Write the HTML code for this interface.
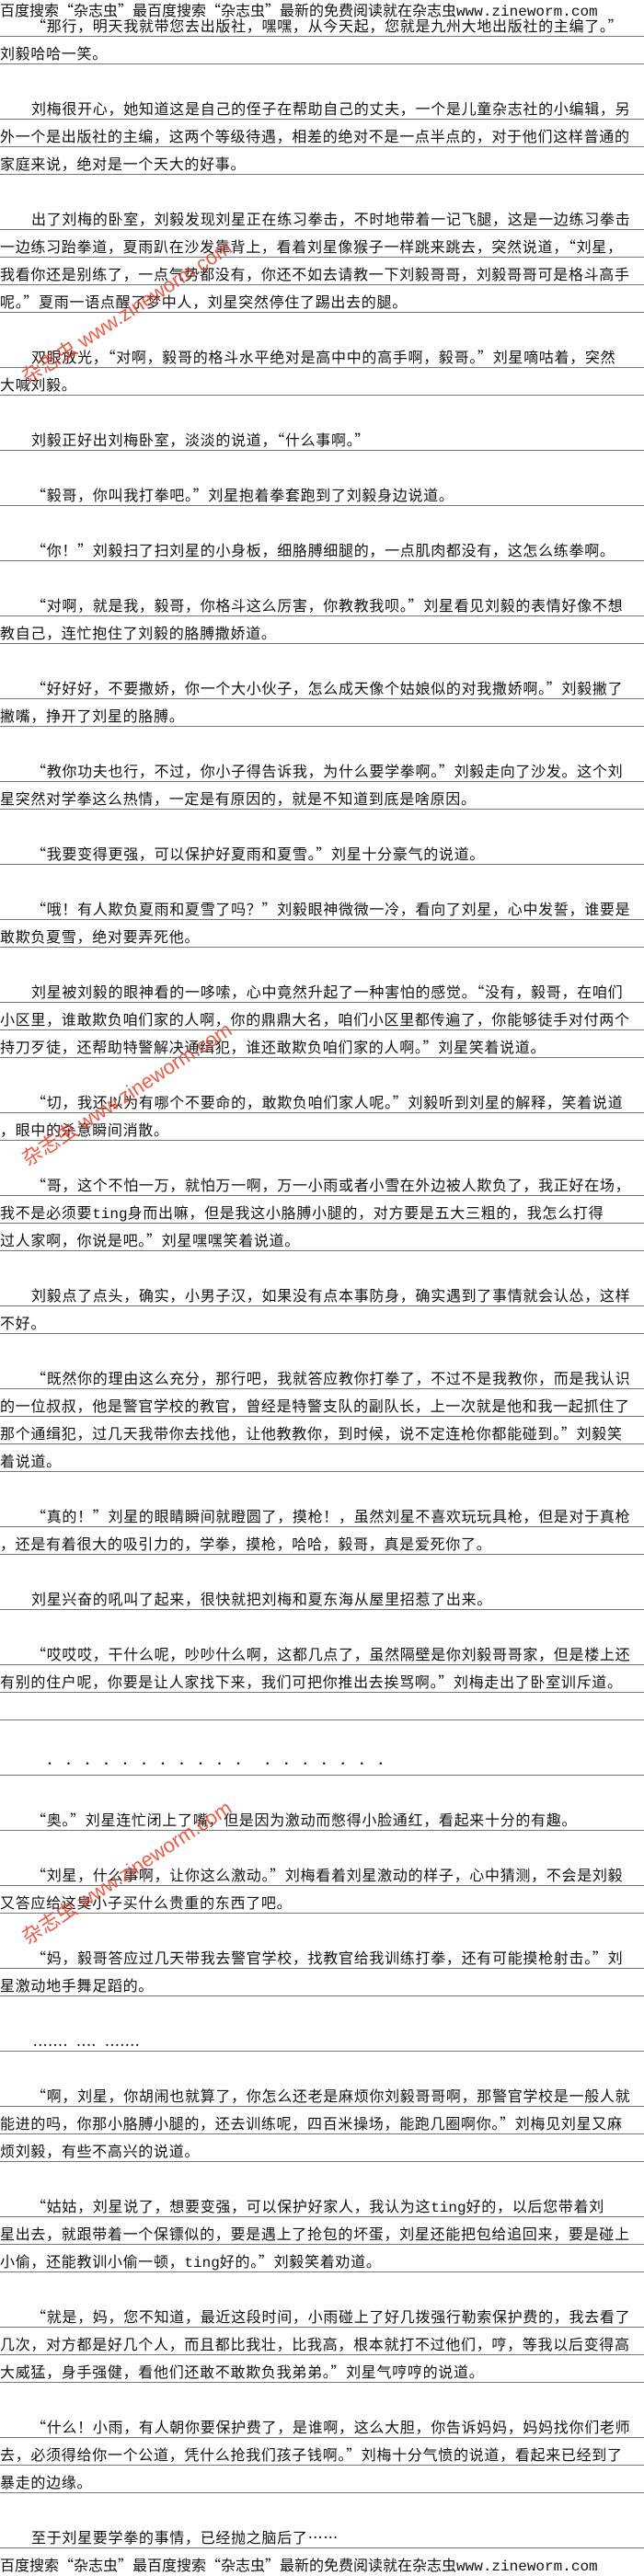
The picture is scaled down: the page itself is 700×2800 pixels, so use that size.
<!DOCTYPE html>
<html><head><meta charset="utf-8">
<style>
html,body{margin:0;padding:0;background:#fff;}
body{width:700px;height:2800px;position:relative;overflow:hidden;font-family:"Noto Sans CJK SC","WenQuanYi Zen Hei",sans-serif;color:#111;}
.r{position:absolute;left:0;width:700px;height:30px;box-sizing:border-box;border-bottom:1px solid #777;font-size:16px;letter-spacing:0.7px;line-height:24px;padding-top:5px;white-space:nowrap;overflow:hidden;}
.i{padding-left:34px;}
.m{font-family:"Liberation Mono",monospace;letter-spacing:0;}
.hd{position:absolute;left:0;width:700px;font-size:16px;line-height:20px;white-space:nowrap;overflow:hidden;letter-spacing:0;}
.wm{position:absolute;color:#e8402a;font-family:"Liberation Sans","Noto Sans CJK SC",sans-serif;font-size:22px;white-space:nowrap;transform-origin:0 100%;transform:rotate(-33deg);opacity:0.85;}
</style></head><body>
<div class="hd" style="top:0">百度搜索“杂志虫”最百度搜索“杂志虫”最新的免费阅读就在杂志虫<span class="m">www.zineworm.com</span></div>

<div class="r i" style="top:10px">“那行，明天我就带您去出版社，嘿嘿，从今天起，您就是九州大地出版社的主编了。”</div>
<div class="r" style="top:40px">刘毅哈哈一笑。</div>
<div class="r i" style="top:100px">刘梅很开心，她知道这是自己的侄子在帮助自己的丈夫，一个是儿童杂志社的小编辑，另</div>
<div class="r" style="top:130px">外一个是出版社的主编，这两个等级待遇，相差的绝对不是一点半点的，对于他们这样普通的</div>
<div class="r" style="top:160px">家庭来说，绝对是一个天大的好事。</div>
<div class="r i" style="top:220px">出了刘梅的卧室，刘毅发现刘星正在练习拳击，不时地带着一记飞腿，这是一边练习拳击</div>
<div class="r" style="top:250px">一边练习跆拳道，夏雨趴在沙发靠背上，看着刘星像猴子一样跳来跳去，突然说道，“刘星，</div>
<div class="r" style="top:280px">我看你还是别练了，一点气势都没有，你还不如去请教一下刘毅哥哥，刘毅哥哥可是格斗高手</div>
<div class="r" style="top:310px">呢。”夏雨一语点醒了梦中人，刘星突然停住了踢出去的腿。</div>
<div class="r i" style="top:370px">双眼放光，“对啊，毅哥的格斗水平绝对是高中中的高手啊，毅哥。”刘星嘀咕着，突然</div>
<div class="r" style="top:400px">大喊刘毅。</div>
<div class="r i" style="top:460px">刘毅正好出刘梅卧室，淡淡的说道，“什么事啊。”</div>
<div class="r i" style="top:520px">“毅哥，你叫我打拳吧。”刘星抱着拳套跑到了刘毅身边说道。</div>
<div class="r i" style="top:580px">“你！”刘毅扫了扫刘星的小身板，细胳膊细腿的，一点肌肉都没有，这怎么练拳啊。</div>
<div class="r i" style="top:640px">“对啊，就是我，毅哥，你格斗这么厉害，你教教我呗。”刘星看见刘毅的表情好像不想</div>
<div class="r" style="top:670px">教自己，连忙抱住了刘毅的胳膊撒娇道。</div>
<div class="r i" style="top:730px">“好好好，不要撒娇，你一个大小伙子，怎么成天像个姑娘似的对我撒娇啊。”刘毅撇了</div>
<div class="r" style="top:760px">撇嘴，挣开了刘星的胳膊。</div>
<div class="r i" style="top:820px">“教你功夫也行，不过，你小子得告诉我，为什么要学拳啊。”刘毅走向了沙发。这个刘</div>
<div class="r" style="top:850px">星突然对学拳这么热情，一定是有原因的，就是不知道到底是啥原因。</div>
<div class="r i" style="top:910px">“我要变得更强，可以保护好夏雨和夏雪。”刘星十分豪气的说道。</div>
<div class="r i" style="top:970px">“哦！有人欺负夏雨和夏雪了吗？”刘毅眼神微微一冷，看向了刘星，心中发誓，谁要是</div>
<div class="r" style="top:1000px">敢欺负夏雪，绝对要弄死他。</div>
<div class="r i" style="top:1060px">刘星被刘毅的眼神看的一哆嗦，心中竟然升起了一种害怕的感觉。“没有，毅哥，在咱们</div>
<div class="r" style="top:1090px">小区里，谁敢欺负咱们家的人啊，你的鼎鼎大名，咱们小区里都传遍了，你能够徒手对付两个</div>
<div class="r" style="top:1120px">持刀歹徒，还帮助特警解决通缉犯，谁还敢欺负咱们家的人啊。”刘星笑着说道。</div>
<div class="r i" style="top:1180px">“切，我还以为有哪个不要命的，敢欺负咱们家人呢。”刘毅听到刘星的解释，笑着说道</div>
<div class="r" style="top:1210px">，眼中的杀意瞬间消散。</div>
<div class="r i" style="top:1270px">“哥，这个不怕一万，就怕万一啊，万一小雨或者小雪在外边被人欺负了，我正好在场，</div>
<div class="r" style="top:1300px">我不是必须要<span class="m">ting</span>身而出嘛，但是我这小胳膊小腿的，对方要是五大三粗的，我怎么打得</div>
<div class="r" style="top:1330px">过人家啊，你说是吧。”刘星嘿嘿笑着说道。</div>
<div class="r i" style="top:1390px">刘毅点了点头，确实，小男子汉，如果没有点本事防身，确实遇到了事情就会认怂，这样</div>
<div class="r" style="top:1420px">不好。</div>
<div class="r i" style="top:1480px">“既然你的理由这么充分，那行吧，我就答应教你打拳了，不过不是我教你，而是我认识</div>
<div class="r" style="top:1510px">的一位叔叔，他是警官学校的教官，曾经是特警支队的副队长，上一次就是他和我一起抓住了</div>
<div class="r" style="top:1540px">那个通缉犯，过几天我带你去找他，让他教教你，到时候，说不定连枪你都能碰到。”刘毅笑</div>
<div class="r" style="top:1570px">着说道。</div>
<div class="r i" style="top:1630px">“真的！”刘星的眼睛瞬间就瞪圆了，摸枪！，虽然刘星不喜欢玩玩具枪，但是对于真枪</div>
<div class="r" style="top:1660px">，还是有着很大的吸引力的，学拳，摸枪，哈哈，毅哥，真是爱死你了。</div>
<div class="r i" style="top:1720px">刘星兴奋的吼叫了起来，很快就把刘梅和夏东海从屋里招惹了出来。</div>
<div class="r i" style="top:1780px">“哎哎哎，干什么呢，吵吵什么啊，这都几点了，虽然隔壁是你刘毅哥哥家，但是楼上还</div>
<div class="r" style="top:1810px">有别的住户呢，你要是让人家找下来，我们可把你推出去挨骂啊。”刘梅走出了卧室训斥道。</div>
<div class="r" style="top:1840px"></div>
<div class="r" style="top:1900px;padding-left:48px;letter-spacing:8.5px;font-size:12px;">··········· ·······</div>
<div class="r i" style="top:1960px">“奥。”刘星连忙闭上了嘴，但是因为激动而憋得小脸通红，看起来十分的有趣。</div>
<div class="r i" style="top:2020px">“刘星，什么事啊，让你这么激动。”刘梅看着刘星激动的样子，心中猜测，不会是刘毅</div>
<div class="r" style="top:2050px">又答应给这臭小子买什么贵重的东西了吧。</div>
<div class="r i" style="top:2110px">“妈，毅哥答应过几天带我去警官学校，找教官给我训练打拳，还有可能摸枪射击。”刘</div>
<div class="r" style="top:2140px">星激动地手舞足蹈的。</div>
<div class="r" style="top:2200px;padding-left:36px;letter-spacing:1px;">.......&nbsp;&nbsp;....&nbsp;&nbsp;.......</div>
<div class="r i" style="top:2260px">“啊，刘星，你胡闹也就算了，你怎么还老是麻烦你刘毅哥哥啊，那警官学校是一般人就</div>
<div class="r" style="top:2290px">能进的吗，你那小胳膊小腿的，还去训练呢，四百米操场，能跑几圈啊你。”刘梅见刘星又麻</div>
<div class="r" style="top:2320px">烦刘毅，有些不高兴的说道。</div>
<div class="r i" style="top:2380px">“姑姑，刘星说了，想要变强，可以保护好家人，我认为这<span class="m">ting</span>好的，以后您带着刘</div>
<div class="r" style="top:2410px">星出去，就跟带着一个保镖似的，要是遇上了抢包的坏蛋，刘星还能把包给追回来，要是碰上</div>
<div class="r" style="top:2440px">小偷，还能教训小偷一顿，<span class="m">ting</span>好的。”刘毅笑着劝道。</div>
<div class="r i" style="top:2500px">“就是，妈，您不知道，最近这段时间，小雨碰上了好几拨强行勒索保护费的，我去看了</div>
<div class="r" style="top:2530px">几次，对方都是好几个人，而且都比我壮，比我高，根本就打不过他们，哼，等我以后变得高</div>
<div class="r" style="top:2560px">大威猛，身手强健，看他们还敢不敢欺负我弟弟。”刘星气哼哼的说道。</div>
<div class="r i" style="top:2620px">“什么！小雨，有人朝你要保护费了，是谁啊，这么大胆，你告诉妈妈，妈妈找你们老师</div>
<div class="r" style="top:2650px">去，必须得给你一个公道，凭什么抢我们孩子钱啊。”刘梅十分气愤的说道，看起来已经到了</div>
<div class="r" style="top:2680px">暴走的边缘。</div>
<div class="r i" style="top:2740px">至于刘星要学拳的事情，已经抛之脑后了……</div>

<div class="hd" style="top:2777px">百度搜索“杂志虫”最百度搜索“杂志虫”最新的免费阅读就在杂志虫<span class="m">www.zineworm.com</span></div>

<div class="wm" style="left:34px;top:392px">杂志虫 www.zineworm.com</div>
<div class="wm" style="left:34px;top:1242px">杂志虫 www.zineworm.com</div>
<div class="wm" style="left:34px;top:2088px">杂志虫 www.zineworm.com</div>
</body></html>
